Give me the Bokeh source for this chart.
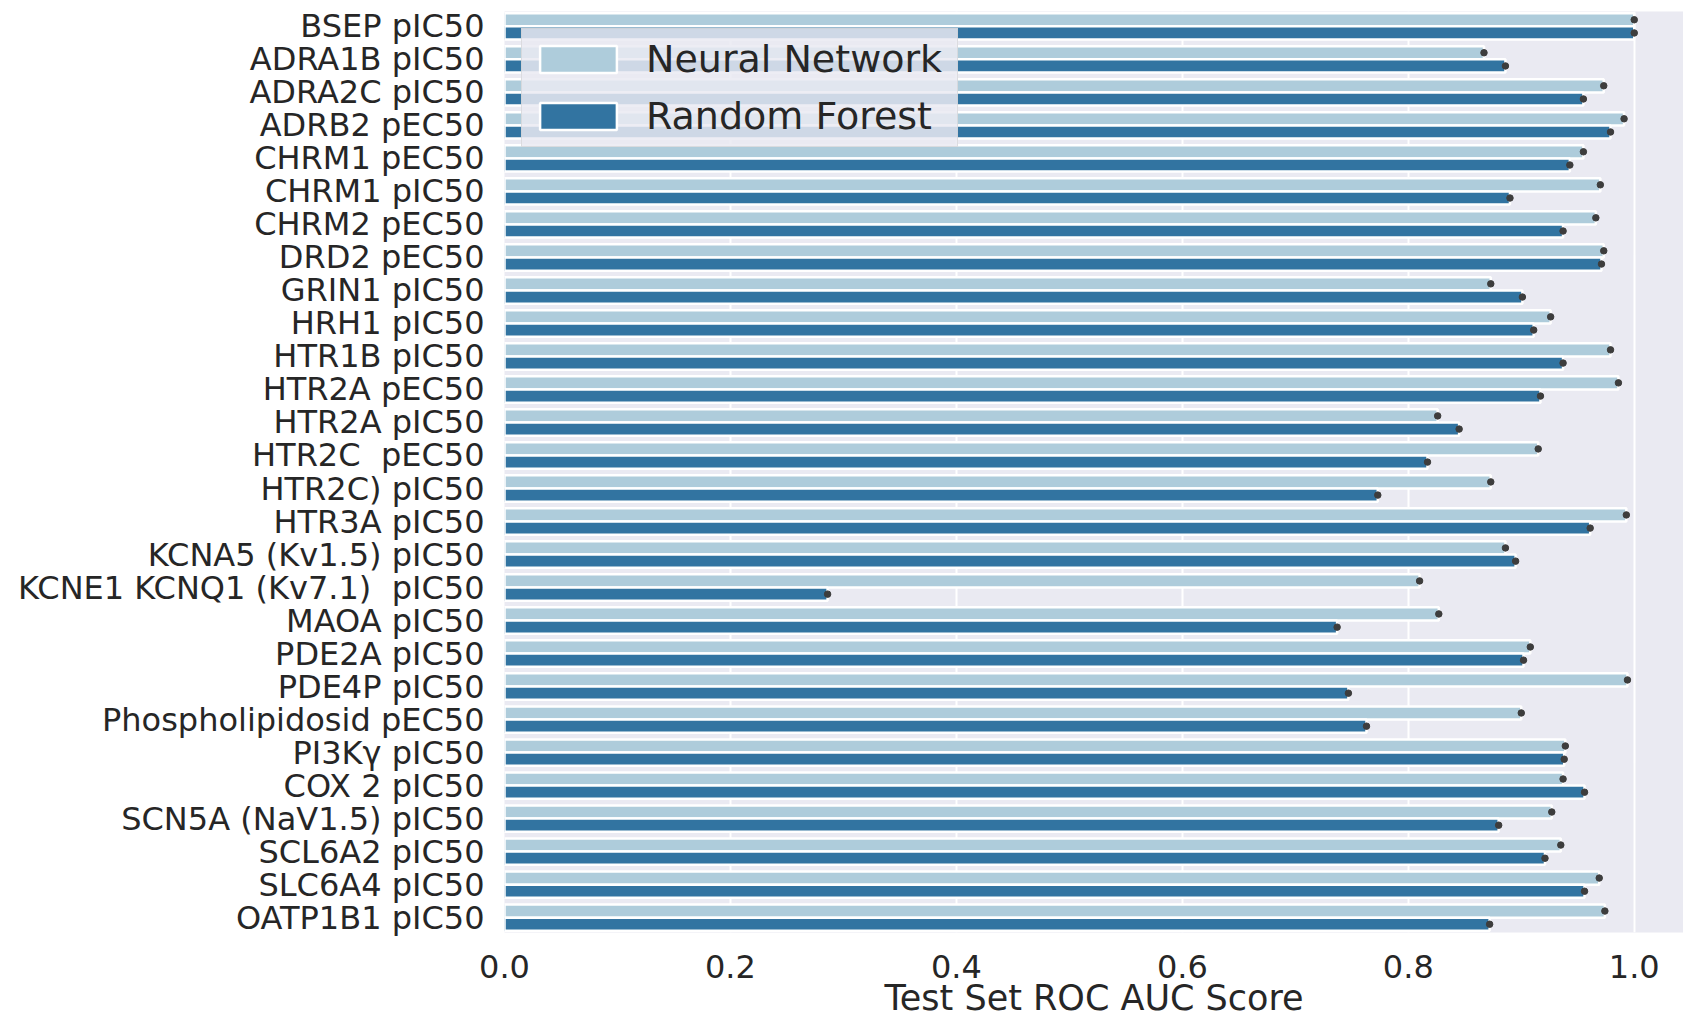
from bokeh.plotting import figure
from bokeh.models import ColumnDataSource, Range1d, FixedTicker, Legend, LegendItem
from bokeh.transform import dodge
from bokeh.embed import file_html
from bokeh.resources import INLINE

categories = [
    "BSEP pIC50", "ADRA1B pIC50", "ADRA2C pIC50", "ADRB2 pEC50", "CHRM1 pEC50",
    "CHRM1 pIC50", "CHRM2 pEC50", "DRD2 pEC50", "GRIN1 pIC50", "HRH1 pIC50",
    "HTR1B pIC50", "HTR2A pEC50", "HTR2A pIC50", "HTR2C \u00a0pEC50", "HTR2C) pIC50",
    "HTR3A pIC50", "KCNA5 (Kv1.5) pIC50", "KCNE1 KCNQ1 (Kv7.1) \u00a0pIC50", "MAOA pIC50",
    "PDE2A pIC50", "PDE4P pIC50", "Phospholipidosid pEC50", "PI3K\u03b3 pIC50",
    "COX 2 pIC50", "SCN5A (NaV1.5) pIC50", "SCL6A2 pIC50", "SLC6A4 pIC50", "OATP1B1 pIC50",
]
nn_scores = [1.000, 0.867, 0.973, 0.991, 0.955, 0.970, 0.966, 0.973, 0.873, 0.926,
             0.979, 0.986, 0.826, 0.915, 0.873, 0.993, 0.886, 0.810, 0.827, 0.908,
             0.994, 0.900, 0.939, 0.937, 0.927, 0.935, 0.969, 0.974]
rf_scores = [1.000, 0.886, 0.955, 0.979, 0.943, 0.890, 0.937, 0.971, 0.901, 0.911,
             0.937, 0.917, 0.845, 0.817, 0.773, 0.961, 0.895, 0.286, 0.737, 0.902,
             0.747, 0.763, 0.938, 0.956, 0.880, 0.921, 0.956, 0.872]
series_names = ["Neural Network", "Random Forest"]
x_ticks = [0.0, 0.2, 0.4, 0.6, 0.8, 1.0]
x_tick_labels = ["0.0", "0.2", "0.4", "0.6", "0.8", "1.0"]
x_title = "Test Set ROC AUC Score"

NN_COLOR = "#aeccdb"
RF_COLOR = "#3274a1"
TEXT = "#262626"
FONT = "DejaVu Sans"

idx = list(range(len(categories)))
source = ColumnDataSource(dict(y=idx, nn=nn_scores, rf=rf_scores))

p = figure(width=1683, height=1021,
           x_range=Range1d(0, 1.0436),
           y_range=Range1d(len(categories) - 0.55, -0.45),
           output_backend="svg", toolbar_location=None,
           min_border_left=504, min_border_right=0,
           min_border_top=11, min_border_bottom=89)

p.background_fill_color = "#eaeaf2"
p.border_fill_color = "white"
p.outline_line_color = None

p.xgrid.ticker = FixedTicker(ticks=x_ticks)
p.xgrid.grid_line_color = "white"
p.xgrid.grid_line_width = 2
p.ygrid.grid_line_color = None

r_nn = p.hbar(y=dodge("y", -0.2), right="nn", left=0, height=0.4, source=source,
              fill_color=NN_COLOR, line_color="white", line_width=2.5)
r_rf = p.hbar(y=dodge("y", 0.2), right="rf", left=0, height=0.4, source=source,
              fill_color=RF_COLOR, line_color="white", line_width=2.5)
p.scatter(x="nn", y=dodge("y", -0.2), size=6.5, color="#3d3d3d", source=source)
p.scatter(x="rf", y=dodge("y", 0.2), size=6.5, color="#3d3d3d", source=source)

xa = p.xaxis[0]
xa.ticker = FixedTicker(ticks=x_ticks)
xa.major_label_overrides = {t: l for t, l in zip(x_ticks, x_tick_labels)}
xa.axis_line_color = None
xa.major_tick_line_color = None
xa.minor_tick_line_color = None
xa.major_tick_out = 0
xa.major_label_standoff = 22
xa.major_label_text_font = FONT
xa.major_label_text_font_size = "32px"
xa.major_label_text_color = TEXT
xa.axis_label = x_title
xa.axis_label_text_font = FONT
xa.axis_label_text_font_size = "35px"
xa.axis_label_text_font_style = "normal"
xa.axis_label_text_color = TEXT
xa.axis_label_standoff = -3

ya = p.yaxis[0]
ya.ticker = FixedTicker(ticks=idx)
ya.major_label_overrides = {i: c for i, c in zip(idx, categories)}
ya.axis_line_color = None
ya.major_tick_line_color = None
ya.minor_tick_line_color = None
ya.major_tick_out = 0
ya.major_label_standoff = 20
ya.major_label_text_font = FONT
ya.major_label_text_font_size = "32px"
ya.major_label_text_color = TEXT

legend = Legend(items=[LegendItem(label=series_names[0], renderers=[r_nn]),
                       LegendItem(label=series_names[1], renderers=[r_rf])],
                location="top_left", margin=17, padding=8, spacing=13,
                glyph_width=96, glyph_height=34, label_standoff=20,
                label_width=303,
                label_text_font=FONT, label_text_font_size="38px",
                label_text_color=TEXT,
                background_fill_color="#eaeaf2", background_fill_alpha=0.85,
                border_line_color="#cccccc", border_line_width=1.5)
p.add_layout(legend)

open("out.html", "w").write(file_html(p, INLINE))
